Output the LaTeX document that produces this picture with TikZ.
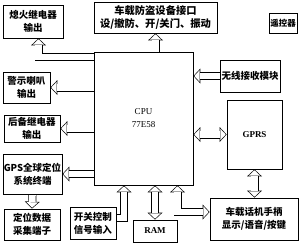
\documentclass[tikz,border=0pt]{standalone}
\usepackage{fontspec}
\setmainfont{Liberation Serif}
\newfontfamily\cjk{Noto Sans CJK SC}
\usetikzlibrary{arrows.meta,backgrounds}

\begin{document}
\begin{tikzpicture}[x=1pt, y=-1pt, line width=0.8pt,
  main_box/.style={draw, inner sep=0pt, align=center, font=\cjk\bfseries\fontsize{9.5}{13}\selectfont},
  latin_box/.style={draw, inner sep=0pt, align=center, font=\fontsize{9}{13}\selectfont},
  hollow_arrow/.style={line width=8pt, -{Triangle[length=7pt,width=15pt,line width=0pt]},
    postaction={draw=white, line width=6.6pt, shorten >=0.9pt, -{Triangle[length=5.4pt,width=11.6pt,line width=0pt]}}},
  hollow_both/.style={line width=8pt, {Triangle[length=7pt,width=15pt,line width=0pt]}-{Triangle[length=7pt,width=15pt,line width=0pt]},
    postaction={draw=white, line width=6.6pt, shorten >=0.9pt, shorten <=0.9pt, {Triangle[length=5.4pt,width=11.6pt,line width=0pt]}-{Triangle[length=5.4pt,width=11.6pt,line width=0pt]}}}]
				\useasboundingbox (0,0) rectangle (303,244);
				% boxes
				\node[latin_box, minimum width=99pt, minimum height=133pt](cpu) at (143.5,118.5){CPU\\77E58};
				\node[main_box, minimum width=60pt, minimum height=33pt](ign) at (33,21.5){熄火继电器\\输出};
				\node[main_box, minimum width=123pt, minimum height=31pt, font=\cjk\bfseries\fontsize{10.3}{13}\selectfont](port) at (155.5,17.5){车载防盗设备接口\\设/撤防、开/关门、振动};
				\node[main_box, minimum width=28pt, minimum height=20pt, font=\cjk\bfseries\fontsize{8.5}{10}\selectfont](remote) at (283,23){遥控器};
				\node[main_box, minimum width=60pt, minimum height=32pt](wireless) at (250,76){无线接收模块};
				\node[latin_box, minimum width=55pt, minimum height=69pt, font=\bfseries\fontsize{9}{11}\selectfont](gprs) at (254.5,134.5){GPRS};
				\node[main_box, minimum width=47pt, minimum height=31pt](horn) at (26.5,87.5){警示喇叭\\输出};
				\node[main_box, minimum width=56pt, minimum height=27pt](backup) at (32,128.5){后备继电器\\输出};
				\node[main_box, minimum width=59pt, minimum height=40pt](gps) at (32.5,174){GPS全球定位\\系统终端};
				\node[main_box, minimum width=56pt, minimum height=31pt](data) at (32,224.5){定位数据\\采集端子};
				\node[main_box, minimum width=46pt, minimum height=32pt](switch) at (93,223){开关控制\\信号输入};
				\node[latin_box, minimum width=44pt, minimum height=22pt, font=\bfseries\fontsize{9}{11}\selectfont](ram) at (155,231){RAM};
				\node[main_box, minimum width=88pt, minimum height=42pt](handset) at (254,219){车载话机手柄\\显示/语音/按键};
				% hollow arrows
				\begin{scope}[on background layer]
				\draw[hollow_arrow]([yshift=-5.5pt]cpu.north west) -| ([xshift=5.5pt]ign.south);
				\draw[hollow_arrow](port.south |- cpu.north) -- (port.south);
				\draw[hollow_arrow](cpu.west |- horn.east) -- (horn.east);
				\draw[hollow_arrow](cpu.west |- backup.east) -- (backup.east);
				\draw[hollow_arrow](cpu.west |- gps.east) -- (gps.east);
				\draw[hollow_arrow](gps.south) -- (data.north);
				\draw[hollow_arrow](wireless.west) -- (wireless.west -| cpu.east);
				\draw[hollow_both](cpu.east |- gprs.west) -- (gprs.west);
				\draw[hollow_both](gprs.south) -- (gprs.south |- handset.north);
				\draw[hollow_arrow]([yshift=5pt]switch.east) -| ([xshift=-19.5pt]cpu.south);
				\draw[hollow_both](ram.north) -- (ram.north |- cpu.south);
				\draw[hollow_both]([xshift=34pt]cpu.south) |- ([yshift=7pt]handset.west);
				\end{scope}
			\end{tikzpicture}
\end{document}
